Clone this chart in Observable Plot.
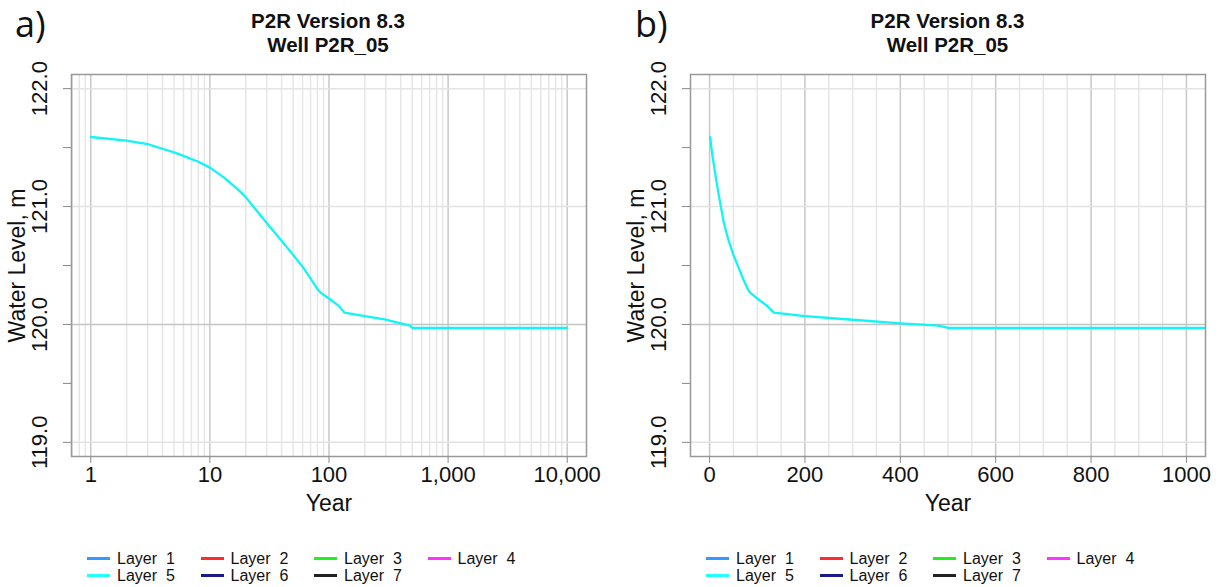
<!DOCTYPE html>
<html><head><meta charset="utf-8">
<script src="https://cdn.jsdelivr.net/npm/d3@7"></script>
<script src="https://cdn.jsdelivr.net/npm/@observablehq/plot@0.6"></script>
<style>
body{margin:0;background:#fff;}
#wrap{position:relative;width:1225px;height:587px;overflow:hidden;font-family:"Liberation Sans",Arial,sans-serif;color:#111;}
.panel{position:absolute;top:60px;}
.tag{position:absolute;top:6px;font-family:"Open Sans",sans-serif;font-size:36px;line-height:36px;color:#111;}
.title{position:absolute;top:9px;width:400px;text-align:center;font-weight:bold;font-size:20.5px;line-height:24px;color:#111;}
.leg{position:absolute;font-size:16px;line-height:17px;white-space:pre;color:#111;}
.leg .sw{display:inline-block;width:23px;height:3px;vertical-align:middle;margin-right:7px;position:relative;top:-1px;}
</style></head>
<body><div id="wrap"></div>
<script>
// Layer 5 water level (m) vs year
const years  = [1, 2, 3, 4, 5, 6, 8, 10, 13, 17, 20, 30, 40, 50, 60, 70, 80, 85, 100, 120, 135, 200, 300, 400, 480, 500, 1000, 10000];
const levels = [121.59, 121.56, 121.53, 121.49, 121.46, 121.43, 121.38, 121.33, 121.25, 121.15, 121.08, 120.86, 120.71, 120.59, 120.49, 120.39, 120.30, 120.27, 120.22, 120.16, 120.10, 120.07, 120.04, 120.01, 119.99, 119.97, 119.97, 119.97];

const layerNames  = ["Layer  1", "Layer  2", "Layer  3", "Layer  4", "Layer  5", "Layer  6", "Layer  7"];
const layerColors = ["#3399ff", "#ff2a2a", "#22ee22", "#ff33ff", "#22ffff", "#1a1a8c", "#222222"];

const yTicks = [119, 119.5, 120, 120.5, 121, 121.5, 122];
const yGridLight = [119, 121, 122];
const yGridDark = [120];

const logTicks = [1, 10, 100, 1000, 10000];
const logMinorMult = [2, 3, 4, 5, 6, 7, 8, 9];
const logMinor = [0.7, 0.8, 0.9, ...[1, 10, 100, 1000].flatMap(d => logMinorMult.map(m => m * d))];

const linTicks = [0, 200, 400, 600, 800, 1000];
const linMinor = [50, 100, 150, 250, 300, 350, 450, 500, 550, 650, 700, 750, 850, 900, 950];

const series = years.map((y, i) => ({year: y, level: levels[i]}));

function panel({width, marginLeft, marginRight, xScale, xTicks, xFormat, minorX, majorX}) {
  return Plot.plot({
    width, height: 465, marginTop: 14, marginBottom: 69, marginLeft, marginRight,
    style: {fontFamily: "'Liberation Sans', Arial, sans-serif", color: "#111", background: "transparent", overflow: "visible"},
    x: xScale,
    y: {domain: [118.88, 122.12]},
    marks: [
      Plot.ruleX(minorX, {stroke: "#e6e6e6", strokeWidth: 1.5}),
      Plot.ruleX(majorX, {stroke: "#c8c8c8", strokeWidth: 1.5}),
      Plot.ruleY(yGridLight, {stroke: "#e3e3e3", strokeWidth: 1.5}),
      Plot.ruleY(yGridDark, {stroke: "#c4c4c4", strokeWidth: 1.5}),
      Plot.line(series, {x: "year", y: "level", stroke: "#11f5f5", strokeWidth: 2.3, clip: true}),
      Plot.frame({stroke: "#999", strokeWidth: 1.5}),
      Plot.axisX({ticks: xTicks, tickFormat: xFormat, tickSize: 7, tickPadding: 3, fontSize: 22, label: null, stroke: "#888", fill: "#111"}),
      Plot.axisY({ticks: yTicks, tickFormat: d => d % 1 === 0 ? d.toFixed(1) : "", tickRotate: -90, tickSize: 8, tickPadding: 17, fontSize: 22, label: null, stroke: "#888", fill: "#111"}),
      Plot.text(["Year"], {frameAnchor: "bottom", lineAnchor: "middle", dy: 47, fontSize: 23, fill: "#111"}),
      Plot.text(["Water Level, m"], {frameAnchor: "left", textAnchor: "middle", lineAnchor: "middle", dx: -54, rotate: -90, fontSize: 23, fill: "#111"})
    ]
  });
}

const wrap = document.getElementById("wrap");

const pa = panel({
  width: 612, marginLeft: 71, marginRight: 26,
  xScale: {type: "log", domain: [0.689, 14520]},
  xTicks: logTicks, xFormat: d3.format(","), minorX: logMinor, majorX: logTicks
});
const pb = panel({
  width: 613, marginLeft: 78, marginRight: 20,
  xScale: {type: "linear", domain: [-40, 1040]},
  xTicks: linTicks, xFormat: d => String(d), minorX: linMinor, majorX: linTicks
});

function place(node, left) {
  const d = document.createElement("div");
  d.className = "panel";
  d.style.left = left + "px";
  d.appendChild(node);
  wrap.appendChild(d);
}
place(pa, 0);
place(pb, 612);

function addText(cls, text, left) {
  const d = document.createElement("div");
  d.className = cls;
  d.style.left = left + "px";
  d.innerHTML = text;
  wrap.appendChild(d);
}
addText("tag", "a)", 15);
addText("tag", "b)", 635);
addText("title", "P2R Version 8.3<br>Well P2R_05", 128);
addText("title", "P2R Version 8.3<br>Well P2R_05", 747.5);

function legend(base) {
  layerNames.forEach((name, i) => {
    const col = i % 4, row = Math.floor(i / 4);
    const d = document.createElement("div");
    d.className = "leg";
    d.style.left = (base + col * 113.5) + "px";
    d.style.top = (549.5 + row * 17) + "px";
    const sw = document.createElement("span");
    sw.className = "sw";
    sw.style.background = layerColors[i];
    d.appendChild(sw);
    d.appendChild(document.createTextNode(name));
    wrap.appendChild(d);
  });
}
legend(87);
legend(706);
</script>
</body></html>
